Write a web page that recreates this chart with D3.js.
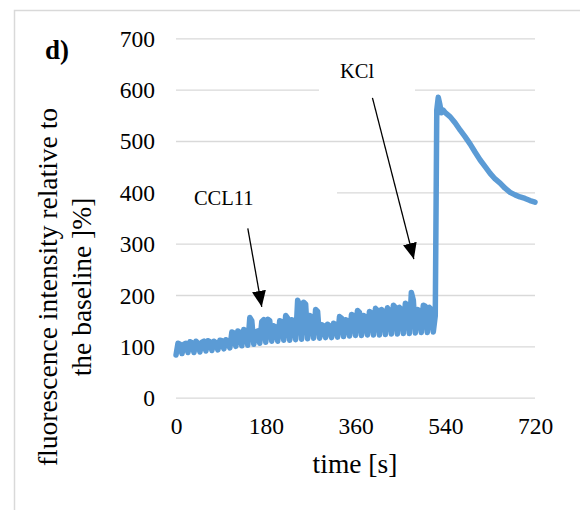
<!DOCTYPE html>
<html>
<head>
<meta charset="utf-8">
<script src="https://cdn.jsdelivr.net/npm/d3@7"></script>
<style>
  body { margin: 0; background: #fff; }
  svg text { font-family: "Liberation Serif", "Times New Roman", serif; fill: #000; }
</style>
</head>
<body>
<div class="chart"></div>
<script>
// baseline phase: one reading every 4 s from 0 to 520 s [%]
var baseTimes = d3.range(0, 521, 4);
var baseValues = [83, 106, 104, 86, 104, 106, 88, 109, 107, 88, 110, 106,
  89, 108, 110, 91, 111, 109, 92, 110, 107, 93, 112, 111,
  95, 113, 110, 97, 128, 126, 100, 130, 127, 101, 133, 130,
  102, 156, 150, 104, 128, 130, 106, 148, 152, 108, 153, 150,
  110, 140, 138, 110, 150, 148, 112, 160, 155, 112, 152, 150,
  113, 190, 180, 114, 186, 182, 115, 160, 158, 116, 172, 168,
  116, 142, 140, 117, 143, 140, 117, 145, 142, 118, 158, 155,
  119, 152, 150, 120, 162, 160, 121, 170, 166, 121, 160, 158,
  122, 168, 165, 122, 174, 170, 122, 172, 168, 123, 175, 170,
  124, 180, 176, 124, 176, 172, 125, 184, 180, 125, 205, 190,
  126, 172, 170, 127, 180, 178, 127, 176, 172, 128, 160];

// KCl response
var kclTimes = [523, 526, 529, 532, 536, 540, 550, 560, 570, 580, 590, 600, 610, 620, 630,
  640, 650, 660, 670, 680, 690, 700, 710, 720];
var kclValues = [560, 585, 572, 555, 560, 555, 547, 535, 521, 508, 494, 478, 463, 450, 437,
  426, 418, 408, 400, 395, 391, 388, 384, 381];

var xTicks = [0, 180, 360, 540, 720];
var yTicks = [0, 100, 200, 300, 400, 500, 600, 700];

// annotations: label, label position, arrow start and arrow tip (data units)
var noteLabels = ["CCL11", "KCl"];
var noteText = [[36, 375], [329, 623]];
var noteFrom = [[144, 330], [394, 584]];
var noteTo = [[172, 177], [477, 270]];

var svgWidth = 580;
var svgHeight = 510;
var serif = "'Liberation Serif', 'Times New Roman', serif";

var svg = d3.select(".chart")
  .append("svg")
  .attr("width", svgWidth)
  .attr("height", svgHeight);

// outer frame
svg.append("rect")
  .attr("x", 14.5)
  .attr("y", 10.5)
  .attr("width", 620)
  .attr("height", 620)
  .attr("fill", "none")
  .attr("stroke", "#d9d9d9")
  .attr("stroke-width", 1.5);

var xScale = d3.scaleLinear().domain([0, 720]).range([176, 535]);
var yScale = d3.scaleLinear().domain([0, 700]).range([397.7, 38.3]);

// y axis with gridlines
var yAxis = svg.append("g")
  .attr("transform", "translate(176, 0)")
  .call(d3.axisLeft(yScale).tickValues(yTicks).tickSize(-(535 - 176)).tickPadding(21));
yAxis.attr("font-family", null);
yAxis.select(".domain").remove();
yAxis.selectAll("line")
  .attr("stroke", "#d9d9d9")
  .attr("stroke-width", 1.3);
yAxis.selectAll("text")
  .style("font-family", serif)
  .style("font-size", "23.5px")
  .attr("fill", "#000")
  .attr("dy", "0.34em");

// x axis labels only
var xAxis = svg.append("g")
  .attr("transform", "translate(0, 397.7)")
  .call(d3.axisBottom(xScale).tickValues(xTicks).tickSize(0));
xAxis.attr("font-family", null);
xAxis.select(".domain").remove();
xAxis.selectAll("text")
  .style("font-family", serif)
  .style("font-size", "23.5px")
  .attr("fill", "#000")
  .attr("y", 36)
  .attr("dy", 0);

// white boxes behind the annotation labels
svg.append("rect")
  .attr("x", 168).attr("y", 178).attr("width", 169).attr("height", 44)
  .attr("fill", "#fff");
svg.append("rect")
  .attr("x", 319).attr("y", 56).attr("width", 96).attr("height", 44)
  .attr("fill", "#fff");

// the trace
var data = baseTimes.map(function(t, i) { return { t: t, v: baseValues[i] }; })
  .concat(kclTimes.map(function(t, i) { return { t: t, v: kclValues[i] }; }));

var line = d3.line()
  .x(d => xScale(d.t))
  .y(d => yScale(d.v));

svg.append("path")
  .datum(data)
  .attr("d", line)
  .attr("fill", "none")
  .attr("stroke", "#5b9bd5")
  .attr("stroke-width", 5.5)
  .attr("stroke-linejoin", "round")
  .attr("stroke-linecap", "round");

// arrow head marker
svg.append("defs").append("marker")
  .attr("id", "head")
  .attr("viewBox", "0 0 16 14")
  .attr("refX", 16)
  .attr("refY", 7)
  .attr("markerWidth", 16)
  .attr("markerHeight", 14)
  .attr("markerUnits", "userSpaceOnUse")
  .attr("orient", "auto")
  .append("path")
  .attr("d", "M0,0 L16,7 L0,14 Z")
  .attr("fill", "#000");

noteLabels.forEach(function(label, i) {
  svg.append("text")
    .attr("x", xScale(noteText[i][0]))
    .attr("y", yScale(noteText[i][1]))
    .style("font-size", "20.5px")
    .text(label);

  svg.append("line")
    .attr("x1", xScale(noteFrom[i][0]))
    .attr("y1", yScale(noteFrom[i][1]))
    .attr("x2", xScale(noteTo[i][0]))
    .attr("y2", yScale(noteTo[i][1]))
    .attr("stroke", "#000")
    .attr("stroke-width", 1.3)
    .attr("marker-end", "url(#head)");
});

// panel letter
svg.append("text")
  .attr("x", 45)
  .attr("y", 59)
  .style("font-size", "27px")
  .style("font-weight", "bold")
  .text("d)");

// axis titles
svg.append("text")
  .attr("x", 355)
  .attr("y", 473)
  .attr("text-anchor", "middle")
  .style("font-size", "27.5px")
  .text("time [s]");

svg.append("text")
  .attr("transform", "translate(57, 287) rotate(-90)")
  .attr("text-anchor", "middle")
  .style("font-size", "27.5px")
  .text("fluorescence intensity relative to");

svg.append("text")
  .attr("transform", "translate(91, 287) rotate(-90)")
  .attr("text-anchor", "middle")
  .style("font-size", "27.5px")
  .text("the baseline ]%]");
</script>
</body>
</html>
